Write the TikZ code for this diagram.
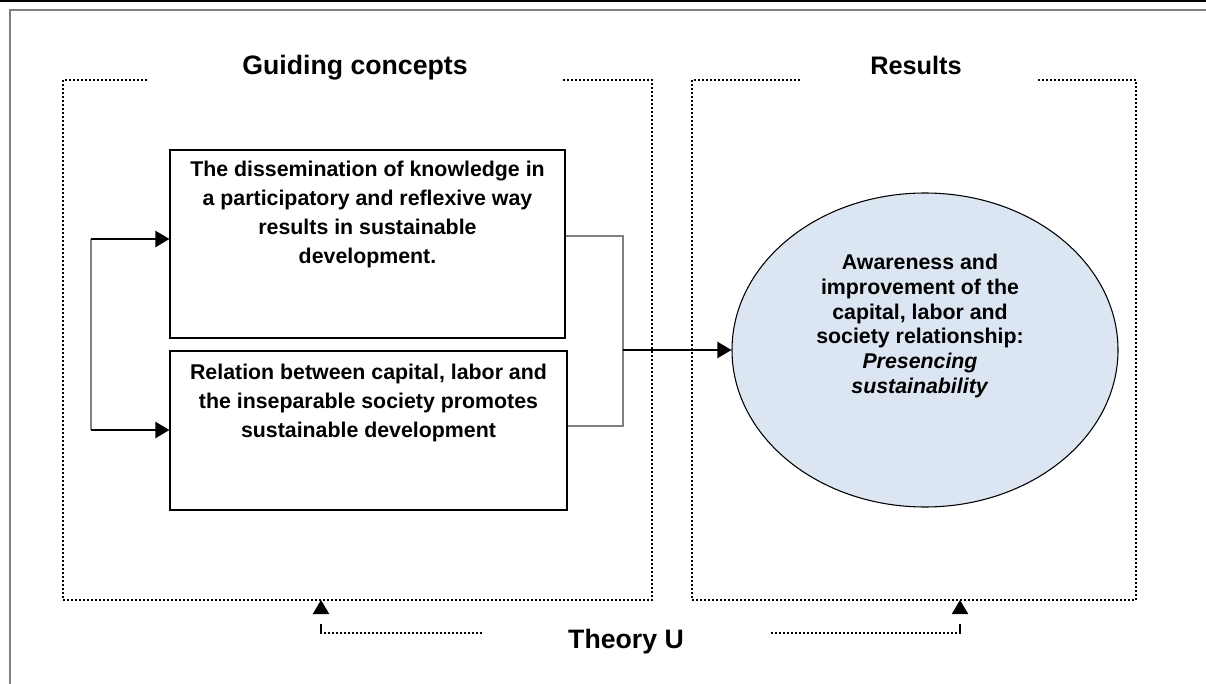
\documentclass[tikz,border=0pt]{standalone}
\usepackage{fontspec}
\setmainfont{Liberation Sans}
\usetikzlibrary{arrows.meta,positioning,shapes.geometric}
\definecolor{ovalfill}{HTML}{DCE6F2}
\definecolor{linkgray}{HTML}{808080}
\tikzset{
  framedots/.style={line width=0.8pt, dash pattern=on 1.5pt off 1.5pt},
  linkline/.style={draw=linkgray, line width=1.2pt},
  pointer/.style={line width=1.6pt, -{Triangle[length=10.5pt,width=12pt]}},
  titletext/.style={font=\fontsize{20}{24}\selectfont\bfseries, anchor=base},
  boxtext/.style={font=\fontsize{16}{21.75}\selectfont\bfseries, align=center},
}
\begin{document}
\begin{tikzpicture}[x=0.75pt,y=-0.75pt]
  \useasboundingbox (0,0) rectangle (1206,684);

  % page rules
  \draw[line width=1.5pt] (0,1) -- (1206,1);
  \draw[linkgray, line width=1.5pt] (10,684) -- (10,10) -- (1206,10);

  % the two dotted frames
  \node[titletext] (guideTitle) at (355,75) {Guiding concepts};
  \node[titletext, font=\fontsize{19}{22}\selectfont\bfseries] (resultTitle) at (916,75) {Results};
  \draw[framedots] (147,80) -- (63,80) -- (63,600) -- (652,600) -- (652,80) -- (563,80);
  \draw[framedots] (800,80) -- (692,80) -- (692,600) -- (1136,600) -- (1136,80) -- (1038,80);

  \begin{scope}[every node/.style={draw, line width=0.8pt, inner sep=0pt}]
    \node (concept1) at (367.5,244) [minimum width=296.25pt, minimum height=141pt] {};
    \node (concept2) at (368.5,430.5) [minimum width=297.75pt, minimum height=119.25pt] {};
    \node (outcome) at (925,350) [ellipse, fill=ovalfill, minimum width=289.5pt, minimum height=235.5pt] {};
  \end{scope}

  \node[boxtext, anchor=north] (concept1Text) at (367.5,156)
    {The dissemination of knowledge in\\a participatory and reflexive way\\results in sustainable\\development.};
  \node[boxtext, anchor=north] (concept2Text) at (368.5,359.5)
    {Relation between capital, labor and\\the inseparable society promotes\\sustainable development};
  \node[boxtext, font=\fontsize{16}{18.5}\selectfont\bfseries] (outcomeText) at (920,326)
    {Awareness and\\improvement of the\\capital, labor and\\society relationship:\\\textit{Presencing}\\\textit{sustainability}};

  % bracket on the left
  \coordinate (splitTop) at (91,239);
  \coordinate (splitBot) at (91,430);
  \draw[linkline] (splitTop) -- (splitBot);
  \draw[pointer] (splitTop) -- (concept1.west |- splitTop);
  \draw[pointer] (splitBot) -- (concept2.west |- splitBot);

  % join on the right
  \coordinate (joinTop) at (623,236);
  \coordinate (joinBot) at (623,426);
  \draw[linkline] (concept1.east |- joinTop) -- (joinTop) -- (joinBot) -- (concept2.east |- joinBot);
  \draw[pointer] (joinTop |- outcome.west) -- (outcome.west);

  % Theory U
  \node[titletext] (theoryU) at (626,648) {Theory U};
  \coordinate (theoryLeft) at (321,633);
  \coordinate (theoryRight) at (960,633);
  \draw[framedots] (482,633) -- (theoryLeft);
  \draw[framedots] (771,633) -- (theoryRight);
  \draw[line width=1.6pt, dash pattern=on 7.5pt off 40pt, -{Triangle[length=10.5pt,width=12pt]}] ([yshift=-0.75pt]theoryLeft) -- (theoryLeft |- 0,600);
  \draw[line width=1.6pt, dash pattern=on 7.5pt off 40pt, -{Triangle[length=10.5pt,width=12pt]}] ([yshift=-0.75pt]theoryRight) -- (theoryRight |- 0,600);

\end{tikzpicture}
\end{document}
